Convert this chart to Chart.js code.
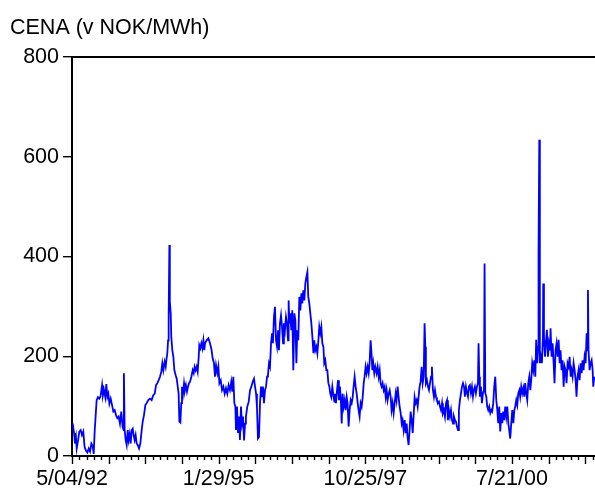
<!DOCTYPE html>
<html><head><meta charset="utf-8">
<script src="https://cdn.jsdelivr.net/npm/chart.js@4"></script>
<style>html,body{margin:0;padding:0;background:#fff}#wrap{width:595px;height:488px}</style>
</head><body><div id="wrap"><canvas id="c" width="595" height="488"></canvas></div>
<script>
const titleText = "CENA (v NOK/MWh)";
const tickLabels = ["5/04/92","1/29/95","10/25/97","7/21/00"];
const yTicks = [0,200,400,600,800];
// day index counted from 5/04/92
const days = [5,14,20,27,32,41,50,59,68,77,86,95,105,114,123,132,141,148,155,161,168,177,186,195,205,211,218,227,234,241,248,255,264,273,282,291,300,309,318,327,336,345,352,354,359,366,373,380,386,393,400,407,414,420,427,434,441,448,457,466,473,482,491,500,509,520,532,543,554,564,573,582,591,600,609,616,623,632,639,645,650,655,659,664,666,668,673,677,684,691,698,707,714,721,727,732,739,745,750,757,764,770,777,784,791,798,805,814,823,830,836,843,850,857,864,868,875,882,889,896,902,
907,918,930,941,952,959,968,975,982,991,998,1005,1014,1023,1032,1041,1050,1059,1068,1077,1086,1093,1100,1107,1114,1118,1125,1132,1139,1145,1152,1159,1166,1173,1180,1186,1195,1205,1214,1223,1232,1241,1248,1255,1261,1268,1275,1282,1289,1295,1302,1309,1316,1323,1330,1336,1343,1350,1357,1364,1370,1377,1384,1391,1398,1405,1411,1418,1425,1432,1439,1445,1452,1459,1466,1473,1477,1482,1489,1495,1502,1509,1516,1523,1530,1536,1543,1550,1557,1564,1570,1577,1584,1591,1598,1605,1611,1618,1625,1632,1639,1646,1652,1659,1666,1673,1680,1686,1693,1700,1707,1714,1720,1727,1734,1741,1748,1755,1761,1768,1775,1782,1789,
1793,1800,1807,1814,1820,1827,1834,1839,1845,1852,1859,1866,1873,1879,1886,1893,1900,1907,1914,1920,1927,1934,1941,1948,1954,1961,1968,1975,1982,1989,1995,2002,2009,2016,2023,2029,2036,2041,2048,2054,2061,2068,2077,2084,2091,2098,2104,2111,2118,2125,2132,2139,2145,2152,2159,2166,2173,2179,2186,2193,2200,2207,2213,2220,2227,2234,2241,2248,2254,2261,2268,2275,2282,2288,2295,2302,2309,2316,2323,2329,2336,2343,2350,2357,2363,2370,2377,2384,2391,2398,2404,2409,2413,2420,2427,2434,2441,2448,2454,2461,2468,2475,2482,2488,2495,2502,2509,2516,2523,2529,2536,2543,2550,2557,2563,2570,2577,2584,2591,2598,2604,2611,2618,2625,2632,2638,2645,2652,2659,2666,2673,
2679,2686,2693,2700,2706,2713,2720,2727,2734,2740,2747,2754,2761,2768,2772,2777,2781,2788,2795,2802,2809,2813,2818,2825,2831,2838,2845,2852,2859,2865,2872,2879,2886,2893,2900,2906,2913,2920,2927,2934,2940,2947,2954,2961,2968,2975,2981,2988,2995,3002,3009,3016,3022,3029,3036,3043,3050,3056,3063,3070,3077,3084,3090,3097,3104,3111,3118,3125,3131,3138,3145,3152,3159,3165,3172,3179,3181,3186,3190,3197,3204,3211,3213,3218,3225,3231,3238,3245,3252,3259,3263,3270,3277,3284,3290,3297,3304,3311,3318,3325,3331,3338,3345,3352,3359,3365,3372,3379,3386,3393,3400,3406,3413,3420,3427,3434,3440,3447,3454,3461,3468,3475,3481,3488,3495,3502,3509,3516,3518,3522,3529,3536,3543,3550,3554,3561];
const prices = [65,46,25,38,15,31,49,52,42,49,18,11,7,15,9,25,20,4,52,79,112,118,115,120,142,122,132,118,144,118,125,105,115,102,89,92,82,76,79,65,89,59,52,166,52,32,22,52,32,44,25,52,55,42,32,42,25,22,15,25,46,69,82,102,106,112,115,112,122,125,142,146,152,159,169,186,172,189,179,196,206,232,279,423,366,310,286,239,212,199,172,162,155,139,125,69,67,106,139,125,146,132,142,129,139,146,149,159,172,166,179,172,179,169,199,222,216,226,216,232,212,
226,232,236,226,212,196,186,159,182,166,179,146,152,132,139,125,136,125,142,132,149,129,159,106,99,52,99,46,79,32,99,65,79,31,65,79,99,109,132,139,149,155,139,125,99,35,38,106,139,118,139,106,132,139,159,162,186,179,226,246,226,279,299,232,219,252,212,266,282,259,226,266,252,279,266,232,312,266,286,252,292,172,286,272,186,252,232,319,292,326,306,332,312,346,359,369,319,306,286,266,239,206,232,212,219,206,232,259,246,259,226,219,186,192,172,172,146,139,125,118,139,122,109,
125,106,132,152,112,139,106,65,125,99,112,92,118,106,59,92,112,106,118,139,159,139,125,106,92,79,106,99,118,146,159,179,166,179,166,186,232,212,172,186,166,179,166,179,159,172,146,139,146,132,139,118,132,112,125,132,118,92,106,86,106,125,112,139,118,99,86,65,72,52,72,46,65,38,22,52,89,72,46,79,118,106,112,99,118,139,149,179,146,159,266,219,146,152,139,132,146,159,179,132,118,132,118,112,106,109,99,92,106,86,92,79,106,112,72,92,79,92,72,65,79,72,69,59,52,92,112,125,139,146,139,
119,139,126,119,139,142,126,139,119,132,139,126,139,146,226,159,119,139,106,126,132,386,126,119,99,92,99,86,92,89,106,139,159,112,92,66,99,49,86,66,89,72,99,79,99,66,52,35,66,92,66,92,99,112,102,126,132,119,139,126,136,119,146,126,112,146,159,132,152,186,172,192,159,233,186,219,406,634,186,199,186,239,346,239,199,226,253,199,226,212,256,199,226,186,146,212,226,199,233,186,212,172,192,139,179,172,146,186,179,199,159,172,159,186,172,152,119,159,172,152,186,166,192,172,199,186,246,212,333,212,172,186,192,172,139,159];

const FONT = {family: "'Liberation Sans', Arial, sans-serif", size: 21.5};
const X_MAX = 3566;

const tickMarks = {
  id: 'tickMarks',
  afterDraw(chart) {
    const xs = chart.scales.x, ctx = chart.ctx, b = chart.chartArea.bottom;
    ctx.save();
    ctx.strokeStyle = '#000';
    ctx.lineWidth = 1.4;
    xs.ticks.forEach(t => {
      const px = Math.round(xs.getPixelForValue(t.value)) + 0.5;
      const len = (t.value % 250 === 0) ? 8 : 4;
      ctx.beginPath(); ctx.moveTo(px, b); ctx.lineTo(px, b + len); ctx.stroke();
    });
    ctx.restore();
  }
};

new Chart(document.getElementById('c'), {
  type: 'line',
  data: {
    datasets: [{
      data: days.map((d, i) => ({x: d, y: prices[i]})),
      borderColor: '#0000ff',
      borderWidth: 1.8,
      pointRadius: 0,
      tension: 0,
      fill: false
    }]
  },
  options: {
    responsive: false,
    devicePixelRatio: 1,
    animation: false,
    layout: {padding: {left: 10, right: 0, top: 7, bottom: 0}},
    plugins: {
      legend: {display: false},
      tooltip: {enabled: false},
      title: {display: true, text: titleText, align: 'start', color: '#000', font: {...FONT, weight: 'normal'}, padding: {top: 8, bottom: 16.2}}
    },
    scales: {
      x: {
        type: 'linear', position: 'bottom', min: 0, max: X_MAX,
        border: {color: '#000', width: 2},
        grid: {display: true, drawOnChartArea: false, drawTicks: true, tickLength: 8, color: 'rgba(0,0,0,0)'},
        ticks: {
          autoSkip: false, maxRotation: 0, minRotation: 0, padding: 2, color: '#000', font: FONT,
          callback: (v) => (v % 1000 === 0 && tickLabels[v / 1000] !== undefined) ? tickLabels[v / 1000] : ''
        },
        afterBuildTicks: (s) => { const t = []; for (let v = 0; v <= X_MAX; v += 50) t.push({value: v}); s.ticks = t; },
        afterFit: (s) => { s.height = 32; }
      },
      xTop: {
        type: 'linear', position: 'top', min: 0, max: X_MAX,
        border: {color: '#000', width: 2},
        grid: {display: false},
        ticks: {display: false},
        afterFit: (s) => { s.height = 0; }
      },
      y: {
        min: 0, max: 800,
        border: {color: '#000', width: 2},
        grid: {display: true, drawOnChartArea: false, drawTicks: true, tickLength: 9, color: '#000', lineWidth: 1.4},
        ticks: {padding: 4, color: '#000', font: FONT},
        afterBuildTicks: (s) => { s.ticks = yTicks.map(v => ({value: v})); },
        afterFit: (s) => { s.width = 62; }
      }
    }
  },
  plugins: [tickMarks]
});
</script>
</body></html>
